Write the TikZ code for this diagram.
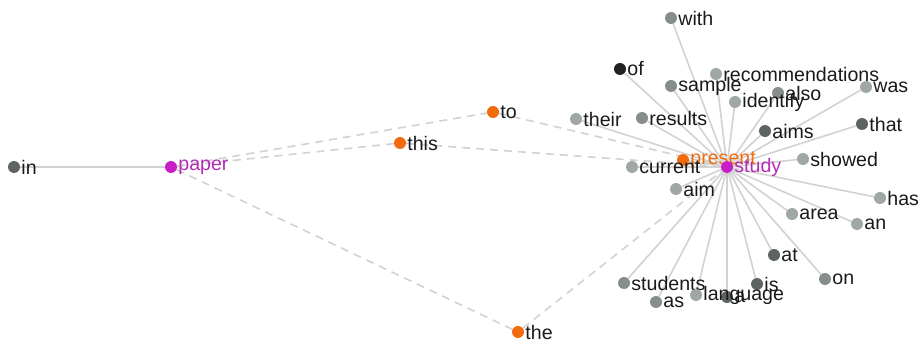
\documentclass[tikz,border=0pt]{standalone}
\usepackage{fontspec}
\setmainfont{Liberation Sans}
\usetikzlibrary{backgrounds}

\definecolor{edgegray}{HTML}{D2D2D2}
\definecolor{lightdot}{HTML}{A0A7A7}
\definecolor{middot}{HTML}{868D8D}
\definecolor{darkdot}{HTML}{5E6363}
\definecolor{blackdot}{HTML}{222222}
\definecolor{hub}{HTML}{C81EC8}
\definecolor{hubtext}{HTML}{B42DB4}
\definecolor{bridge}{HTML}{F26B0F}
\definecolor{wordtext}{HTML}{1A1A1A}

\tikzset{
  dot/.style={circle, inner sep=0pt, minimum size=12pt, fill=#1},
  lab/.style={font=\fontsize{19.6}{20}\selectfont, text=wordtext, inner sep=1pt, label distance=0pt},
  edge/.style={draw=edgegray, line width=1.6pt},
  link/.style={edge, dash pattern=on 8pt off 6pt}
}

\begin{document}
\begin{tikzpicture}[x=1pt, y=-1pt]
    \useasboundingbox (0,0) rectangle (919,342);

    % hubs and bridge words
    \node[dot=darkdot, label={[lab]right:in}] (in) at (14,167) {};
    \node[dot=hub, label={[lab, text=hubtext]right:paper}] (paper) at (171,167) {};
    \node[dot=bridge, label={[lab]right:to}] (to) at (493,112) {};
    \node[dot=bridge, label={[lab]right:this}] (this) at (400,143) {};
    \node[dot=bridge, label={[lab]right:the}] (the) at (518,332) {};
    \node[dot=bridge, label={[lab, text=bridge]right:present}] (present) at (683,160) {};

    % words around study
    \node[dot=middot, label={[lab]right:with}] (with) at (671,18) {};
    \node[dot=blackdot, label={[lab]right:of}] (of) at (620,69) {};
    \node[dot=lightdot, label={[lab]right:recommendations}] (recommendations) at (716,74) {};
    \node[dot=middot, label={[lab]right:sample}] (sample) at (671,86) {};
    \node[dot=middot, label={[lab]right:also}] (also) at (778,93) {};
    \node[dot=lightdot, label={[lab]right:identify}] (identify) at (735,102) {};
    \node[dot=lightdot, label={[lab]right:was}] (was) at (866,87) {};
    \node[dot=lightdot, label={[lab]right:their}] (their) at (576,119) {};
    \node[dot=middot, label={[lab]right:results}] (results) at (642,118) {};
    \node[dot=darkdot, label={[lab]right:aims}] (aims) at (765,131) {};
    \node[dot=darkdot, label={[lab]right:that}] (that) at (862,124) {};
    \node[dot=lightdot, label={[lab]right:showed}] (showed) at (803,159) {};
    \node[dot=lightdot, label={[lab]right:current}] (current) at (632,167) {};
    \node[dot=lightdot, label={[lab]right:aim}] (aim) at (676,189) {};
    \node[dot=lightdot, label={[lab]right:has}] (has) at (880,198) {};
    \node[dot=lightdot, label={[lab]right:area}] (area) at (792,214) {};
    \node[dot=lightdot, label={[lab]right:an}] (an) at (857,224) {};
    \node[dot=darkdot, label={[lab]right:at}] (at) at (774,255) {};
    \node[dot=middot, label={[lab]right:on}] (on) at (825,279) {};
    \node[dot=middot, label={[lab]right:students}] (students) at (624,283) {};
    \node[dot=darkdot, label={[lab]right:is}] (is) at (757,284) {};
    \node[dot=darkdot, label={[lab]right:a}] (a) at (727,297) {};
    \node[dot=middot, label={[lab]right:as}] (as) at (656,302) {};
    \node[dot=lightdot, label={[lab]right:language}] (language) at (696,295) {};

    \node[dot=hub, label={[lab, text=hubtext]right:study}] (study) at (727,167) {};

    \begin{scope}[on background layer]
      \draw[edge] (in) -- (paper);
      \draw[link] (paper) -- (to);
      \draw[link] (paper) -- (this);
      \draw[link] (paper) -- (the);
      \draw[link] (to) -- (study);
      \draw[link] (this) -- (study);
      \draw[link] (the) -- (study);
      \draw[edge] (present) -- (study);
      \foreach \w in {with, of, recommendations, sample, also, identify, was,
                      their, results, aims, that, showed, current, aim, has,
                      area, an, at, on, students, is, a, as, language}
        \draw[edge] (study) -- (\w);
    \end{scope}
\end{tikzpicture}
\end{document}
